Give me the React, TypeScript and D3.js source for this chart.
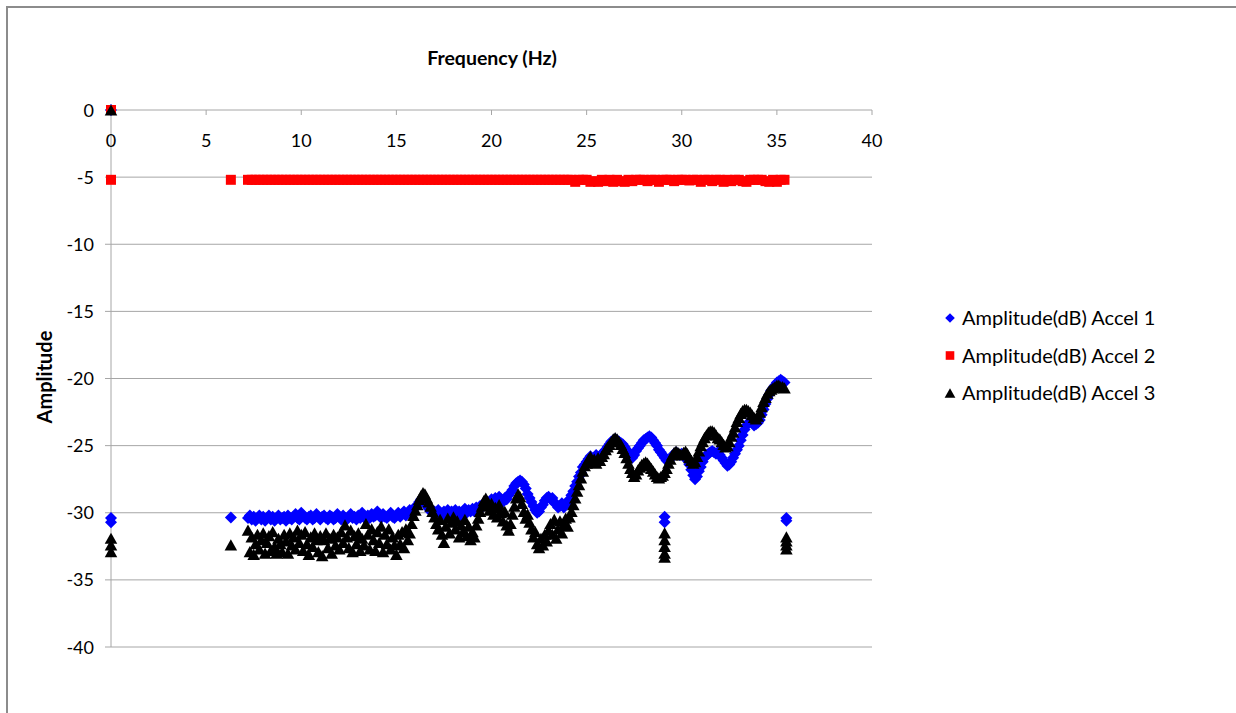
import React from "react";
import * as d3 from "d3";

// Fine frequency grid (Hz) used by Accel 1 and Accel 3
const FREQ_FINE = [
  7.2, 7.3, 7.4, 7.5, 7.6, 7.7, 7.8, 7.9,
  8.0, 8.1, 8.2, 8.3, 8.4, 8.5, 8.6, 8.7, 8.8, 8.9,
  9.0, 9.1, 9.2, 9.3, 9.4, 9.5, 9.6, 9.7, 9.8, 9.9,
  10.0, 10.1, 10.2, 10.3, 10.4, 10.5, 10.6, 10.7, 10.8, 10.9,
  11.0, 11.1, 11.2, 11.3, 11.4, 11.5, 11.6, 11.7, 11.8, 11.9,
  12.0, 12.1, 12.2, 12.3, 12.4, 12.5, 12.6, 12.7, 12.8, 12.9,
  13.0, 13.1, 13.2, 13.3, 13.4, 13.5, 13.6, 13.7, 13.8, 13.9,
  14.0, 14.1, 14.2, 14.3, 14.4, 14.5, 14.6, 14.7, 14.8, 14.9,
  15.0, 15.1, 15.2, 15.3, 15.4, 15.5, 15.6, 15.7, 15.8, 15.9,
  16.0, 16.1, 16.2, 16.3, 16.4, 16.5, 16.6, 16.7, 16.8, 16.9,
  17.0, 17.1, 17.2, 17.3, 17.4, 17.5, 17.6, 17.7, 17.8, 17.9,
  18.0, 18.1, 18.2, 18.3, 18.4, 18.5, 18.6, 18.7, 18.8, 18.9,
  19.0, 19.1, 19.2, 19.3, 19.4, 19.5, 19.6, 19.7, 19.8, 19.9,
  20.0, 20.1, 20.2, 20.3, 20.4, 20.5, 20.6, 20.7, 20.8, 20.9,
  21.0, 21.1, 21.2, 21.3, 21.4, 21.5, 21.6, 21.7, 21.8, 21.9,
  22.0, 22.1, 22.2, 22.3, 22.4, 22.5, 22.6, 22.7, 22.8, 22.9,
  23.0, 23.1, 23.2, 23.3, 23.4, 23.5, 23.6, 23.7, 23.8, 23.9,
  24.0, 24.1, 24.2, 24.3, 24.4, 24.5, 24.6, 24.7, 24.8, 24.9,
  25.0, 25.1, 25.2, 25.3, 25.4, 25.5, 25.6, 25.7, 25.8, 25.9,
  26.0, 26.1, 26.2, 26.3, 26.4, 26.5, 26.6, 26.7, 26.8, 26.9,
  27.0, 27.1, 27.2, 27.3, 27.4, 27.5, 27.6, 27.7, 27.8, 27.9,
  28.0, 28.1, 28.2, 28.3, 28.4, 28.5, 28.6, 28.7, 28.8, 28.9,
  29.0, 29.1, 29.2, 29.3, 29.4, 29.5, 29.6, 29.7, 29.8, 29.9,
  30.0, 30.1, 30.2, 30.3, 30.4, 30.5, 30.6, 30.7, 30.8, 30.9,
  31.0, 31.1, 31.2, 31.3, 31.4, 31.5, 31.6, 31.7, 31.8, 31.9,
  32.0, 32.1, 32.2, 32.3, 32.4, 32.5, 32.6, 32.7, 32.8, 32.9,
  33.0, 33.1, 33.2, 33.3, 33.4, 33.5, 33.6, 33.7, 33.8, 33.9,
  34.0, 34.1, 34.2, 34.3, 34.4, 34.5, 34.6, 34.7, 34.8, 34.9,
  35.0, 35.1, 35.2, 35.3, 35.4,
];

const ACCEL1 = [
  -30.4, -30.2, -30.5, -30.3, -30.6, -30.4, -30.2, -30.5,
  -30.3, -30.6, -30.4, -30.2, -30.5, -30.3, -30.6, -30.4, -30.2, -30.5,
  -30.4, -30.3, -30.6, -30.2, -30.4, -30.5, -30.3, -30.1, -30.4, -30.5,
  -30.0, -30.2, -30.4, -30.5, -30.3, -30.2, -30.5, -30.4, -30.1, -30.3,
  -30.5, -30.3, -30.2, -30.4, -30.5, -30.2, -30.3, -30.5, -30.4, -30.1,
  -30.3, -30.5, -30.2, -30.4, -30.5, -30.3, -30.1, -30.4, -30.3, -30.5,
  -30.2, -30.4, -30.0, -30.3, -30.5, -30.2, -30.4, -30.1, -30.3, -30.2,
  -29.9, -30.2, -30.4, -30.1, -30.3, -30.4, -30.2, -30.0, -30.3, -30.4,
  -30.2, -30.0, -30.3, -30.1, -29.9, -30.2, -30.0, -29.8, -29.9, -29.7,
  -29.6, -29.4, -29.2, -29.0, -29.1, -29.3, -29.5, -29.7, -29.9, -30.0,
  -29.9, -30.1, -29.8, -30.0, -30.2, -29.9, -30.1, -29.8, -30.0, -29.9,
  -30.1, -29.8, -30.0, -29.9, -30.2, -29.9, -29.7, -30.0, -29.8, -29.9,
  -29.7, -29.9, -29.6, -29.8, -29.5, -29.6, -29.3, -29.4, -29.2, -29.3,
  -29.0, -29.2, -28.9, -29.1, -28.8, -29.0, -29.2, -28.9, -29.0, -28.7,
  -28.5, -28.3, -28.0, -27.8, -27.7, -27.6, -27.7, -27.9, -28.2, -28.6,
  -28.9, -29.2, -29.5, -29.8, -30.0, -29.9, -29.6, -29.4, -29.1, -28.9,
  -28.8, -29.0, -28.9, -29.2, -29.4, -29.6, -29.5, -29.3, -29.6, -29.4,
  -29.2, -29.0, -28.7, -28.4, -28.0, -27.7, -27.3, -27.0, -26.6, -26.4,
  -26.2, -26.0, -25.8, -26.1, -25.9, -25.7, -26.0, -25.8, -25.6, -25.5,
  -25.3, -25.1, -24.9, -24.7, -24.6, -24.5, -24.6, -24.7, -24.8, -24.9,
  -25.1, -25.3, -25.6, -25.8, -25.9, -25.7, -25.4, -25.2, -25.0, -24.8,
  -24.6, -24.5, -24.4, -24.3, -24.4, -24.6, -24.8, -25.0, -25.3, -25.5,
  -25.7, -25.9, -26.1, -26.2, -26.0, -25.8, -25.6, -25.5, -25.6, -25.7,
  -25.6, -25.7, -25.9, -26.1, -26.4, -26.8, -27.2, -27.5, -27.3, -26.9,
  -26.6, -26.2, -25.9, -25.7, -25.6, -25.5, -25.4, -25.5, -25.6, -25.5,
  -25.7, -25.9, -26.1, -26.3, -26.5, -26.4, -26.2, -25.9, -25.6, -25.3,
  -25.0, -24.6, -24.2, -23.8, -23.5, -23.3, -23.2, -23.3, -23.5, -23.4,
  -23.3, -23.1, -22.7, -22.3, -21.9, -21.5, -21.2, -20.9, -20.7, -20.5,
  -20.3, -20.2, -20.1, -20.2, -20.3,
];

const ACCEL3 = [
  -31.3, -32.9, -31.8, -33.1, -32.3, -31.6, -32.7, -32.0,
  -31.5, -33.0, -32.2, -31.7, -32.8, -31.4, -32.5, -33.0, -31.9, -32.3,
  -32.9, -31.6, -32.1, -33.0, -31.5, -32.4, -31.8, -32.7, -31.3, -32.2,
  -31.6, -32.8, -31.4, -32.3, -33.1, -31.8, -32.5, -31.5, -32.0, -32.9,
  -31.7, -33.2, -32.0, -31.5, -32.6, -31.9, -33.0, -31.6, -32.4, -31.8,
  -32.7, -31.4, -32.2, -30.9, -31.8, -32.6, -31.3, -32.9, -31.7, -32.3,
  -31.5, -32.8, -31.9, -32.4, -30.8, -31.6, -32.7, -31.2, -32.0, -32.8,
  -31.4, -32.2, -31.0, -32.9, -31.6, -32.3, -31.2, -32.7, -31.8, -32.4,
  -33.1, -31.6, -32.3, -31.4, -32.6, -31.2, -32.0, -31.5, -30.8, -30.2,
  -29.8, -29.4, -29.0, -28.7, -28.5, -28.6, -28.9, -29.2, -29.5, -29.9,
  -30.3, -30.8, -31.2, -30.5, -31.6, -32.2, -31.0, -30.4, -31.5, -30.7,
  -30.3, -31.2, -30.6, -31.8, -30.9, -31.4, -30.5, -31.7, -31.0, -32.0,
  -31.4, -31.8, -30.9, -30.4, -29.9, -29.5, -29.1, -28.9, -29.4, -29.8,
  -29.3, -30.1, -29.6, -30.3, -29.4, -30.0, -30.6, -29.9, -30.9, -31.3,
  -30.8, -30.1, -29.5, -28.9, -28.6, -28.8, -29.3, -29.9, -30.4, -30.1,
  -30.7, -31.2, -31.8, -31.4, -32.3, -32.6, -31.9, -32.4, -31.6, -32.1,
  -31.3, -30.8, -31.6, -30.5, -31.9, -31.2, -30.6, -31.5, -30.9, -30.4,
  -31.0, -30.3, -29.9, -29.4, -28.9, -28.4, -27.9, -27.4, -26.9, -26.5,
  -26.3, -26.0, -25.8, -26.2, -26.0, -26.3, -25.9, -26.1, -25.8, -25.6,
  -25.3, -25.1, -24.9, -24.7, -24.5, -24.4, -24.5, -24.7, -24.9, -25.2,
  -25.5, -25.9, -26.3, -26.7, -27.0, -27.3, -27.1, -26.8, -26.6, -26.4,
  -26.3, -26.2, -26.3, -26.5, -26.7, -26.9, -27.1, -27.3, -27.4, -27.3,
  -27.2, -27.0, -26.7, -26.3, -26.0, -25.7, -25.5, -25.4, -25.5, -25.6,
  -25.7, -25.5, -25.4, -25.6, -25.9, -26.1, -26.3, -26.2, -25.8, -25.4,
  -25.0, -24.7, -24.4, -24.2, -24.0, -23.9, -23.9, -24.0, -24.2, -24.4,
  -24.5, -24.7, -24.9, -25.1, -25.0, -24.7, -24.3, -24.0, -23.6, -23.2,
  -22.9, -22.6, -22.4, -22.3, -22.3, -22.4, -22.5, -22.7, -22.9, -23.0,
  -22.8, -22.5, -22.1, -21.7, -21.4, -21.1, -20.9, -20.8, -20.7, -20.6,
  -20.5, -20.5, -20.6, -20.6, -20.7,
];

// Coarser grid (Hz) for Accel 2
const FREQ_RED = [
  7.2, 7.4, 7.6, 7.8,
  8.0, 8.2, 8.4, 8.6, 8.8, 9.0, 9.2, 9.4, 9.6, 9.8,
  10.0, 10.2, 10.4, 10.6, 10.8, 11.0, 11.2, 11.4, 11.6, 11.8,
  12.0, 12.2, 12.4, 12.6, 12.8, 13.0, 13.2, 13.4, 13.6, 13.8,
  14.0, 14.2, 14.4, 14.6, 14.8, 15.0, 15.2, 15.4, 15.6, 15.8,
  16.0, 16.2, 16.4, 16.6, 16.8, 17.0, 17.2, 17.4, 17.6, 17.8,
  18.0, 18.2, 18.4, 18.6, 18.8, 19.0, 19.2, 19.4, 19.6, 19.8,
  20.0, 20.2, 20.4, 20.6, 20.8, 21.0, 21.2, 21.4, 21.6, 21.8,
  22.0, 22.2, 22.4, 22.6, 22.8, 23.0, 23.2, 23.4, 23.6, 23.8,
  24.0, 24.2, 24.4, 24.6, 24.8, 25.0, 25.2, 25.4, 25.6, 25.8,
  26.0, 26.2, 26.4, 26.6, 26.8, 27.0, 27.2, 27.4, 27.6, 27.8,
  28.0, 28.2, 28.4, 28.6, 28.8, 29.0, 29.2, 29.4, 29.6, 29.8,
  30.0, 30.2, 30.4, 30.6, 30.8, 31.0, 31.2, 31.4, 31.6, 31.8,
  32.0, 32.2, 32.4, 32.6, 32.8, 33.0, 33.2, 33.4, 33.6, 33.8,
  34.0, 34.2, 34.4, 34.6, 34.8, 35.0, 35.2, 35.4,
];

const ACCEL2 = [
  -5.2, -5.2, -5.2, -5.2,
  -5.2, -5.2, -5.2, -5.2, -5.2, -5.2, -5.2, -5.2, -5.2, -5.2,
  -5.2, -5.2, -5.2, -5.2, -5.2, -5.2, -5.2, -5.2, -5.2, -5.2,
  -5.2, -5.2, -5.2, -5.2, -5.2, -5.2, -5.2, -5.2, -5.2, -5.2,
  -5.2, -5.2, -5.2, -5.2, -5.2, -5.2, -5.2, -5.2, -5.2, -5.2,
  -5.2, -5.2, -5.2, -5.2, -5.2, -5.2, -5.2, -5.2, -5.2, -5.2,
  -5.2, -5.2, -5.2, -5.2, -5.2, -5.2, -5.2, -5.2, -5.2, -5.2,
  -5.2, -5.2, -5.2, -5.2, -5.2, -5.2, -5.2, -5.2, -5.2, -5.2,
  -5.2, -5.2, -5.2, -5.2, -5.2, -5.2, -5.2, -5.2, -5.2, -5.2,
  -5.2, -5.2, -5.35, -5.2, -5.2, -5.2, -5.35, -5.3, -5.35, -5.2,
  -5.3, -5.2, -5.35, -5.2, -5.3, -5.35, -5.2, -5.3, -5.2, -5.2,
  -5.2, -5.3, -5.2, -5.2, -5.35, -5.2, -5.2, -5.2, -5.3, -5.2,
  -5.2, -5.2, -5.25, -5.2, -5.2, -5.35, -5.2, -5.2, -5.3, -5.2,
  -5.2, -5.35, -5.2, -5.3, -5.2, -5.2, -5.3, -5.35, -5.2, -5.2,
  -5.2, -5.2, -5.3, -5.35, -5.2, -5.35, -5.2, -5.2,
];

// Isolated points outside the dense band
const ACCEL1_EXTRA_F = [0, 0, 0, 6.3, 29.1, 29.1, 35.5, 35.5];
const ACCEL1_EXTRA_V = [0, -30.4, -30.7, -30.35, -30.3, -30.7, -30.4, -30.6];
const ACCEL2_EXTRA_F = [0, 0, 6.3];
const ACCEL2_EXTRA_V = [0, -5.2, -5.2];
const ACCEL3_EXTRA_F = [0, 0, 0, 0, 6.3, 29.1, 29.1, 29.1, 29.1, 29.1, 35.5, 35.5, 35.5, 35.5];
const ACCEL3_EXTRA_V = [0, -31.9, -32.4, -32.9, -32.4, -31.5, -32.0, -32.5, -33.0, -33.3, -31.8, -32.1, -32.4, -32.7];

const X_TICKS = [0, 5, 10, 15, 20, 25, 30, 35, 40];
const Y_TICKS = [0, -5, -10, -15, -20, -25, -30, -35, -40];

const SERIES_NAMES = ["Amplitude(dB) Accel 1", "Amplitude(dB) Accel 2", "Amplitude(dB) Accel 3"];
const COLORS = ["#0000ff", "#ff0000", "#000000"];

const FONT = "Lato, 'Open Sans', sans-serif";

function markerPath(kind: string, s: number): string {
  if (kind === "diamond") return `M0,${-s}L${s},0L0,${s}L${-s},0Z`;
  if (kind === "square") return `M${-s},${-s}H${s}V${s}H${-s}Z`;
  return `M0,${-s}L${s * 1.12},${s}L${-s * 1.12},${s}Z`;
}

export default function App() {
  const W = 1236;
  const H = 713;
  const x = d3.scaleLinear().domain([0, 40]).range([111, 872]);
  const y = d3.scaleLinear().domain([0, -40]).range([110, 647]);

  const series = [
    { f: ACCEL1_EXTRA_F.concat(FREQ_FINE), v: ACCEL1_EXTRA_V.concat(ACCEL1), kind: "diamond", size: 6 },
    { f: ACCEL2_EXTRA_F.concat(FREQ_RED), v: ACCEL2_EXTRA_V.concat(ACCEL2), kind: "square", size: 5 },
    { f: ACCEL3_EXTRA_F.concat(FREQ_FINE), v: ACCEL3_EXTRA_V.concat(ACCEL3), kind: "triangle", size: 5.6 },
  ];

  const gridColor = "#a6a6a6";

  return (
    <svg
      width={W}
      height={H}
      style={{ position: "absolute", left: 0, top: 0, background: "#fff" }}
      fontFamily={FONT}
    >
      <rect x={0} y={0} width={W} height={H} fill="#fff" />
      <rect x={7} y={7} width={1250} height={730} fill="none" stroke="#8c8c8c" strokeWidth={2} />

      {Y_TICKS.map((t) => (
        <line key={"g" + t} x1={x(0)} x2={x(40)} y1={y(t)} y2={y(t)} stroke={gridColor} strokeWidth={1} />
      ))}
      <line x1={x(0)} x2={x(0)} y1={y(0)} y2={y(-40)} stroke={gridColor} strokeWidth={1} />
      {Y_TICKS.map((t) => (
        <g key={"yt" + t}>
          <line x1={x(0) - 6} x2={x(0)} y1={y(t)} y2={y(t)} stroke={gridColor} />
          <text x={94} y={y(t) + 6.5} textAnchor="end" fontSize={18} fill="#000">
            {t}
          </text>
        </g>
      ))}
      {X_TICKS.map((t) => (
        <g key={"xt" + t}>
          <line x1={x(t)} x2={x(t)} y1={y(0)} y2={y(0) + 5} stroke={gridColor} />
          <text x={x(t)} y={147} textAnchor="middle" fontSize={18} fill="#000">
            {t}
          </text>
        </g>
      ))}

      <text x={492} y={65} textAnchor="middle" fontSize={19.5} fontWeight="bold" fill="#000">
        Frequency (Hz)
      </text>
      <text
        transform={`translate(52,377) rotate(-90)`}
        textAnchor="middle"
        fontSize={20}
        fontWeight="bold"
        fill="#000"
      >
        Amplitude
      </text>

      {series.map((s, si) => (
        <g key={"s" + si} fill={COLORS[si]}>
          {s.f.map((fv, i) => (
            <path key={i} d={markerPath(s.kind, s.size)} transform={`translate(${x(fv)},${y(s.v[i])})`} />
          ))}
        </g>
      ))}

      {SERIES_NAMES.map((name, i) => {
        const ly = 318 + i * 37.5;
        const kinds = ["diamond", "square", "triangle"];
        return (
          <g key={"lg" + i}>
            <path d={markerPath(kinds[i], i === 1 ? 4.3 : 4.8)} transform={`translate(950,${ly})`} fill={COLORS[i]} />
            <text x={962} y={ly + 7} fontSize={20} fill="#000">
              {name}
            </text>
          </g>
        );
      })}
    </svg>
  );
}
